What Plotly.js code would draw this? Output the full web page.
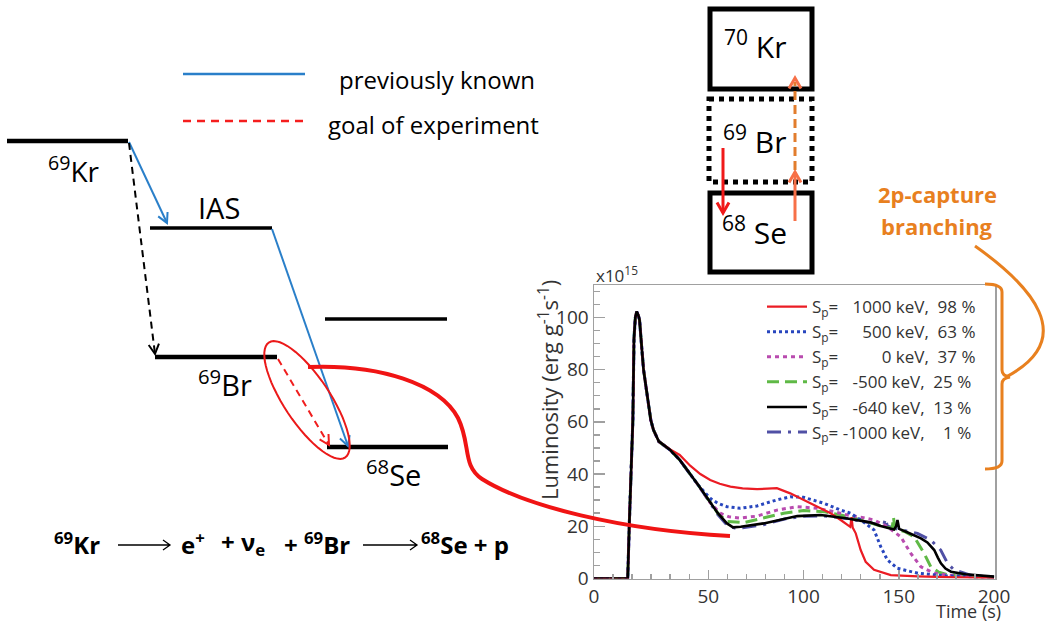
<!DOCTYPE html>
<html><head><meta charset="utf-8">
<script src="https://cdn.plot.ly/plotly-3.0.1.min.js"></script>
<style>html,body{margin:0;padding:0;background:#fff;}#chart{width:1053px;height:624px;}</style>
</head><body><div id="chart"></div>
<script>
// ---------- data ----------
const spValues = ["1000", "500", "0", "-500", "-640", "-1000"];
const branchPct = ["98", "63", "37", "25", "13", "1"];

const timeSp1000 = [-10, 7.7, 8.6, 10.4, 11.0, 11.7, 12.4, 13.2, 13.9, 16, 19.8, 21.2, 24, 30, 35, 40.5, 45.8, 51, 56, 61.6, 68, 75.6, 81, 86, 93, 98, 103.7, 109, 114.2, 119.5, 123, 124.5, 125.2, 125.8, 127.4, 130, 132.6, 137, 145.8, 160, 180, 200];
const lumSp1000 = [0, 0, 22.4, 60.7, 92, 100, 102.2, 101, 99, 80, 60.7, 56.9, 52.5, 49.4, 47.3, 43.2, 40, 37.7, 36.3, 35.2, 34.5, 34.2, 34.4, 34.6, 32.6, 30.8, 28.8, 26.8, 25, 22.4, 20.5, 19.8, 23.5, 19.5, 17.3, 10.9, 6.4, 3.3, 1.3, 0.8, 0.4, 0.2];

const timeSp500 = [-10, 7.7, 8.6, 10.4, 11.0, 11.7, 12.4, 13.2, 13.9, 16, 19.8, 21.2, 24, 30, 35, 45, 51, 55, 59.8, 66.8, 75.6, 86, 93, 100, 110.7, 119.5, 124.7, 130, 137, 140.5, 144, 149.3, 160, 175, 200];
const lumSp500 = [0, 0, 22.4, 60.7, 92, 100, 102.2, 101, 99, 80, 60.7, 56.9, 52.5, 49.2, 45.4, 35.5, 30.7, 28.8, 27.5, 26.9, 27.8, 30.1, 31.3, 31.1, 28.8, 26.2, 25, 22.4, 18.6, 12.2, 7.1, 3.9, 2, 1, 0.4];

const timeSp0 = [-10, 7.7, 8.6, 10.4, 11.0, 11.7, 12.4, 13.2, 13.9, 16, 19.8, 21.2, 24, 30, 35, 45, 51, 56.3, 61, 66.8, 75.6, 86, 96.7, 107.2, 116, 123, 130, 137, 144, 151, 156.3, 161.6, 168.6, 180, 200];
const lumSp0 = [0, 0, 22.4, 60.7, 92, 100, 102.2, 101, 99, 80, 60.7, 56.9, 52.5, 49.2, 45.4, 35.5, 29, 25, 23.6, 23.1, 23.9, 26.2, 27.5, 26.9, 25.6, 24.3, 23.5, 22.4, 19.8, 16, 9.6, 4.5, 2, 0.9, 0.4];

const timeSpM500 = [-10, 7.7, 8.6, 10.4, 11.0, 11.7, 12.4, 13.2, 13.9, 16, 19.8, 21.2, 24, 30, 35, 45, 55, 59.8, 68.6, 79.1, 89.6, 100, 110.7, 119.5, 130, 140, 146.5, 147.2, 148, 153, 158, 163.3, 166.8, 171, 175.6, 185, 200];
const lumSpM500 = [0, 0, 22.4, 60.7, 92, 100, 102.2, 101, 99, 80, 60.7, 56.9, 52.5, 49.2, 45.4, 35.5, 25, 21.8, 21.4, 23.1, 25, 26, 25.6, 24.3, 22.5, 20.2, 19.2, 23.5, 19, 18, 16, 9.6, 4.5, 2.4, 1.5, 0.9, 0.4];

const timeSpM640 = [-10, 7.7, 8.6, 10.4, 11.0, 11.7, 12.4, 13.2, 13.9, 16, 19.8, 21.2, 24, 30, 35, 45, 55, 59.8, 63, 67, 79.1, 90, 96.7, 109, 123, 135, 140.5, 147.5, 148.6, 149.3, 150.2, 155, 158, 161.6, 165, 168.6, 170.5, 172.1, 174.5, 177.4, 185, 200];
const lumSpM640 = [0, 0, 22.4, 60.7, 92, 100, 102.2, 101, 99, 80, 60.7, 56.9, 52.5, 49.2, 45.4, 35.5, 25, 21.1, 19.6, 19.8, 21.1, 23, 23.9, 24.3, 23, 21.5, 20.1, 18.8, 20, 22.4, 19, 17.5, 16.5, 15.4, 13.8, 10.9, 8, 5.8, 3.8, 2.6, 1.6, 0.7];

const timeSpM1000 = [-10, 7.7, 8.6, 10.4, 11.0, 11.7, 12.4, 13.2, 13.9, 16, 19.8, 21.2, 24, 30, 35, 45, 55, 60, 64, 68, 79, 90, 100, 110, 123, 135, 142, 143, 144, 150, 159.8, 166.8, 172, 175.6, 179, 188, 200];
const lumSpM1000 = [0, 0, 22.4, 60.7, 92, 100, 102.2, 101, 99, 80, 60.7, 56.9, 52.5, 49.2, 45.4, 35.5, 24.5, 20.3, 19.3, 19.4, 20.6, 22.8, 23.8, 24, 23, 21.3, 20.3, 23, 20, 18.8, 17.3, 14.7, 10.9, 5.8, 3.3, 1.2, 0.6];

// x tick labels as printed on the picture
const xTickVals = [-10, 50, 100, 150, 200];
const xTickText = ["0", "50", "100", "150", "200"];

// ---------- styling ----------
const NB = '\u00a0', FS = '\u2007';
function pad(s, n) { while (s.length < n) s = FS + s; return s; }
function legName(i) {
  return 'S<sub>p</sub>=' + NB + pad(spValues[i], 5) + ' keV,' + NB + NB + pad(branchPct[i], 2) + ' %';
}
const seriesDefs = [
  {t: timeSpM1000, l: lumSpM1000, i: 5, color: 'rgb(80,80,165)', width: 3, dash: '14px,7px,3px,7px'},
  {t: timeSpM500, l: lumSpM500, i: 3, color: 'rgb(95,185,70)', width: 3, dash: '12px,6px'},
  {t: timeSp0, l: lumSp0, i: 2, color: 'rgb(185,75,175)', width: 3, dash: '4px,4px'},
  {t: timeSp500, l: lumSp500, i: 1, color: 'rgb(40,70,190)', width: 3, dash: 'dot'},
  {t: timeSp1000, l: lumSp1000, i: 0, color: 'rgb(235,28,36)', width: 2.2, dash: 'solid'},
  {t: timeSpM640, l: lumSpM640, i: 4, color: 'black', width: 2.6, dash: 'solid'}
];
const traces = seriesDefs.map(s => ({
  type: 'scatter', mode: 'lines', x: s.t, y: s.l, name: legName(s.i), legendrank: s.i + 1,
  line: {color: s.color, width: s.width, dash: s.dash}, hoverinfo: 'skip'
}));
traces.push({type: 'scatter', x: [0], y: [0], xaxis: 'x2', yaxis: 'y2', mode: 'markers',
  marker: {opacity: 0}, showlegend: false, hoverinfo: 'skip'});

// ---------- decorations (pixel coordinates on an overlay axis) ----------
const shapes = [];
function L(x0, y0, x1, y1, color, width, dash) {
  shapes.push({type: 'line', xref: 'x2', yref: 'y2', x0, y0, x1, y1, layer: 'above',
    line: {color, width, dash: dash || 'solid'}});
}
function P(d, color, width, dash) {
  shapes.push({type: 'path', xref: 'x2', yref: 'y2', path: d, layer: 'above',
    line: {color, width, dash: dash || 'solid'}});
}
function head(x1, y1, x2, y2, len, deg, color, width) {
  const d = Math.hypot(x2 - x1, y2 - y1), ux = (x2 - x1) / d, uy = (y2 - y1) / d;
  const a = deg * Math.PI / 180, c = Math.cos(a), s = Math.sin(a);
  const lx = x2 - len * (ux * c - uy * s), ly = y2 - len * (uy * c + ux * s);
  const rx = x2 - len * (ux * c + uy * s), ry = y2 - len * (uy * c - ux * s);
  P(`M${lx},${ly} L${x2},${y2} L${rx},${ry}`, color, width);
}
function arrow(x1, y1, x2, y2, color, width, dash, len, deg) {
  L(x1, y1, x2, y2, color, width, dash);
  head(x1, y1, x2, y2, len || 11, deg || 28, color, width);
}
// energy levels
L(7, 141, 128, 141, 'black', 4.5);
L(150, 228, 272, 228, 'black', 3.5);
L(155, 357, 277, 357, 'black', 4.5);
L(325, 319, 447, 319, 'black', 3.5);
L(327, 447, 448, 447, 'black', 4.5);
// transitions
arrow(129, 142, 167, 223, 'rgb(42,127,201)', 2);
arrow(272, 229, 348, 446, 'rgb(42,127,201)', 2);
arrow(129, 143, 155, 354, 'black', 2, '7px,5px');
arrow(278, 359, 329, 445, 'rgb(240,30,30)', 2, '7px,5px');
// ellipse
(function () {
  const cx = 307, cy = 400, a = 69, b = 23, th = 56.4 * Math.PI / 180;
  let d = '';
  for (let k = 0; k <= 60; k++) {
    const p = 2 * Math.PI * k / 60;
    const x = cx + a * Math.cos(p) * Math.cos(th) - b * Math.sin(p) * Math.sin(th);
    const y = cy + a * Math.cos(p) * Math.sin(th) + b * Math.sin(p) * Math.cos(th);
    d += (k ? ' L' : 'M') + x.toFixed(1) + ',' + y.toFixed(1);
  }
  P(d + ' Z', 'rgb(235,25,25)', 2);
})();
// connector curve
P('M308,367 C380,364 440,384 458,418 C471,444 462,466 482,479 C525,506 620,530 730,536', 'rgb(240,20,20)', 4);
// legend (top-left)
L(183, 74, 305, 74, 'rgb(42,127,201)', 2.5);
L(183, 121, 305, 121, 'rgb(245,30,30)', 2.5, '8px,6px');
// top-right boxes
shapes.push({type: 'rect', xref: 'x2', yref: 'y2', x0: 710, y0: 9, x1: 812, y1: 89, layer: 'above', line: {color: 'black', width: 5}});
shapes.push({type: 'rect', xref: 'x2', yref: 'y2', x0: 709, y0: 99, x1: 812, y1: 182, layer: 'above', line: {color: 'black', width: 5, dash: '5px,5px'}});
shapes.push({type: 'rect', xref: 'x2', yref: 'y2', x0: 710, y0: 193, x1: 812, y1: 272, layer: 'above', line: {color: 'black', width: 5}});
arrow(723, 148, 723, 213, 'rgb(240,25,25)', 3, null, 12, 30);
arrow(795, 221, 795, 172, 'rgb(247,112,72)', 3, null, 12, 30);
L(795, 170, 795, 82, 'rgb(226,125,45)', 3, '9px,5px');
head(795, 150, 795, 78, 12, 30, 'rgb(247,112,72)', 3);
// orange brace + curved pointer
P('M975,246 C1030,285 1080,338 1006,377', 'rgb(232,128,31)', 3);
P('M985,284 Q1002,284 1002,292 L1002,370 Q1002,376 1010,377 Q1002,378 1002,384 L1002,461 Q1002,469 985,469', 'rgb(232,128,31)', 3);
// equation arrows
P('M118,545 L170,545 M163,540 L170,545 L163,550', 'black', 1.3);
P('M363,545 L417,545 M410,540 L417,545 L410,550', 'black', 1.3);

// ---------- annotations ----------
const anns = [];
const diaFont = 'Open Sans, sans-serif';
function T(text, x, y, size, opts) {
  anns.push(Object.assign({text, x, y, xref: 'x2', yref: 'y2', showarrow: false,
    xanchor: 'center', yanchor: 'middle',
    font: {family: diaFont, size, color: 'black'}}, opts || {}));
}
const plotFont = 'Open Sans, sans-serif';
T('x10<sup>15</sup>', 594, 274, 17, {xanchor: 'left', font: {family: plotFont, size: 17, color: '#333'}});
T('Luminosity (erg g<sup>-1</sup>s<sup>-1</sup>)', 548, 390, 22, {textangle: -90, font: {family: plotFont, size: 22, color: '#333'}});
T('Time (s)', 1003, 611, 18, {xanchor: 'right', font: {family: plotFont, size: 18, color: '#333'}});
T('<sup>69</sup>Kr', 74, 169, 28);
T('IAS', 219, 207, 29);
T('<sup>69</sup>Br', 225, 383, 29);
T('<sup>68</sup>Se', 393, 473, 29);
T('previously known', 337, 79, 24, {xanchor: 'left'});
T('goal of experiment', 326, 124, 24, {xanchor: 'left'});
T('<sup>70</sup>' + NB + 'Kr', 755, 45, 30);
T('<sup>69</sup>' + NB + 'Br', 754, 140, 30);
T('<sup>68</sup>' + NB + 'Se', 754, 231, 30);
const orangeFont = {family: diaFont, size: 22, color: 'rgb(232,128,31)'};
T('<b>2p-capture</b>', 937, 194, 22, {font: orangeFont});
T('<b>branching</b>', 937, 226, 22, {font: orangeFont});
const eqFont = {family: 'Open Sans, sans-serif', size: 24, color: 'black'};
T('<b><sup>69</sup>Kr</b>', 52, 543, 24, {xanchor: 'left', font: eqFont});
T('<b>e<sup>+</sup></b>', 179, 543, 24, {xanchor: 'left', font: eqFont});
T('<b>+ ν<sub>e</sub></b>', 219, 543, 24, {xanchor: 'left', font: eqFont});
T('<b>+ <sup>69</sup>Br</b>', 282, 543, 24, {xanchor: 'left', font: eqFont});
T('<b><sup>68</sup>Se + p</b>', 419, 543, 24, {xanchor: 'left', font: eqFont});

// ---------- layout ----------
const axisCommon = {showline: true, linecolor: '#a0a0a0', linewidth: 1.5, mirror: true, ticks: 'inside',
  tickcolor: '#a0a0a0', tickwidth: 1.5, ticklen: 11, showgrid: false, zeroline: false,
  tickfont: {family: plotFont, size: 19, color: '#333'}};
const layout = {
  width: 1053, height: 624, margin: {l: 0, r: 0, t: 0, b: 0},
  paper_bgcolor: 'white', plot_bgcolor: 'rgba(0,0,0,0)',
  showlegend: true,
  legend: {x: 762 / 1053, y: 1 - 289 / 624, xanchor: 'left', yanchor: 'top', bgcolor: 'rgba(0,0,0,0)',
    font: {family: plotFont, size: 17, color: '#333'}, traceorder: 'normal', itemwidth: 40, tracegroupgap: 0},
  xaxis: Object.assign({}, axisCommon, {domain: [594 / 1053, 995 / 1053], range: [-10, 200.5],
    tickmode: 'array', tickvals: xTickVals, ticktext: xTickText, ticklen: 9,
    minor: {dtick: 10, tick0: 0, ticklen: 5, ticks: 'inside', tickcolor: '#a0a0a0', tickwidth: 1.5}}),
  yaxis: Object.assign({}, axisCommon, {domain: [1 - 578.5 / 624, 1 - 285 / 624], range: [0, 112.4],
    dtick: 20, minor: {dtick: 5, ticklen: 6, ticks: 'inside', tickcolor: '#a0a0a0', tickwidth: 1.5}}),
  xaxis2: {domain: [0, 1], range: [0, 1053], visible: false, anchor: 'y2', fixedrange: true},
  yaxis2: {domain: [0, 1], range: [624, 0], visible: false, anchor: 'x2', fixedrange: true},
  shapes, annotations: anns
};
Plotly.newPlot('chart', traces, layout, {displayModeBar: false, staticPlot: true});
</script></body></html>
